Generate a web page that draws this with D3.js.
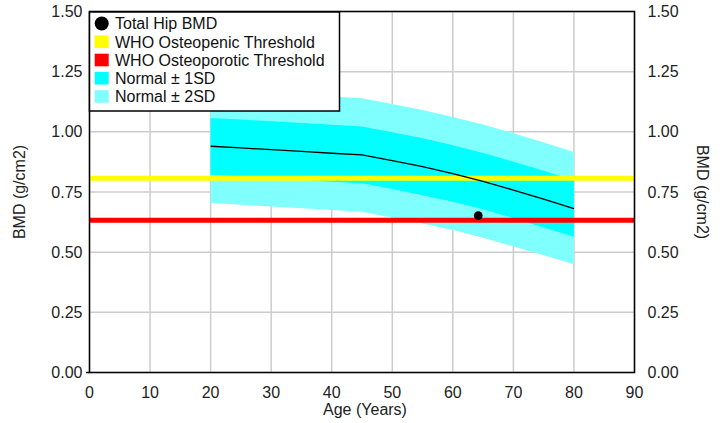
<!DOCTYPE html>
<html>
<head>
<meta charset="utf-8">
<script src="https://cdn.jsdelivr.net/npm/d3@7"></script>
<style>
  html, body { margin: 0; padding: 0; background: #ffffff; }
  svg { display: block; font-family: "Liberation Sans", Arial, sans-serif; }
</style>
</head>
<body>
<svg id="chart" width="723" height="423"></svg>
<script>
// ---------- data ----------
const ages     = [20, 25, 30, 35, 40, 45, 50, 55, 60, 65, 70, 75, 80];
const meanBMD  = [0.940, 0.933, 0.926, 0.919, 0.911, 0.904, 0.880, 0.855, 0.826, 0.794, 0.758, 0.720, 0.681];
const plus1SD  = [1.058, 1.051, 1.044, 1.037, 1.029, 1.022, 0.998, 0.973, 0.944, 0.912, 0.876, 0.838, 0.799];
const minus1SD = [0.822, 0.815, 0.808, 0.801, 0.793, 0.786, 0.762, 0.737, 0.710, 0.678, 0.642, 0.603, 0.564];
const plus2SD  = [1.176, 1.169, 1.162, 1.155, 1.147, 1.140, 1.116, 1.091, 1.062, 1.030, 0.994, 0.956, 0.916];
const minus2SD = [0.704, 0.697, 0.690, 0.683, 0.675, 0.668, 0.644, 0.619, 0.592, 0.560, 0.524, 0.487, 0.450];
const osteopenicThreshold  = 0.807;
const osteoporoticThreshold = 0.633;
const patientAge = [64.2];
const patientBMD = [0.652];
const xTicks = [0, 10, 20, 30, 40, 50, 60, 70, 80, 90];
const yTicks = [0.00, 0.25, 0.50, 0.75, 1.00, 1.25, 1.50];
const legendLabels = ["Total Hip BMD", "WHO Osteopenic Threshold", "WHO Osteoporotic Threshold", "Normal \u00b1 1SD", "Normal \u00b1 2SD"];
const legendColors = ["#000000", "#ffff00", "#ff0000", "#00ffff", "#80ffff"];
const xTitle = "Age (Years)";
const yTitle = "BMD (g/cm2)";

// ---------- layout ----------
const L = 89.5, R = 634.5, T = 11.5, B = 372.5;
const svg = d3.select("#chart");
const x = d3.scaleLinear().domain([0, 90]).range([L, R]);
const y = d3.scaleLinear().domain([0, 1.5]).range([B, T]);

// grid
const grid = svg.append("g");
grid.selectAll("line.v").data(xTicks).join("line")
  .attr("x1", d => x(d)).attr("x2", d => x(d)).attr("y1", T).attr("y2", B)
  .attr("stroke", "#cccccc").attr("stroke-width", 1.5);
grid.selectAll("line.h").data(yTicks).join("line")
  .attr("y1", d => y(d)).attr("y2", d => y(d)).attr("x1", L).attr("x2", R)
  .attr("stroke", "#cccccc").attr("stroke-width", 1.5);

// bands
const rows = ages.map((a, i) => ({a, m: meanBMD[i], p1: plus1SD[i], m1: minus1SD[i], p2: plus2SD[i], m2: minus2SD[i]}));
const area2 = d3.area().x(d => x(d.a)).y0(d => y(d.m2)).y1(d => y(d.p2));
const area1 = d3.area().x(d => x(d.a)).y0(d => y(d.m1)).y1(d => y(d.p1));
svg.append("path").datum(rows).attr("d", area2).attr("fill", "#80ffff");
svg.append("path").datum(rows).attr("d", area1).attr("fill", "#00ffff");

// thresholds
svg.append("line").attr("x1", L).attr("x2", R)
  .attr("y1", y(osteopenicThreshold)).attr("y2", y(osteopenicThreshold))
  .attr("stroke", "#ffff00").attr("stroke-width", 5);
svg.append("line").attr("x1", L).attr("x2", R)
  .attr("y1", y(osteoporoticThreshold)).attr("y2", y(osteoporoticThreshold))
  .attr("stroke", "#ff0000").attr("stroke-width", 5);

// mean line
svg.append("path").datum(rows)
  .attr("d", d3.line().x(d => x(d.a)).y(d => y(d.m)))
  .attr("fill", "none").attr("stroke", "#000").attr("stroke-width", 1.3);

// patient point
svg.selectAll("circle.pt").data(patientAge.map((a, i) => ({a, v: patientBMD[i]}))).join("circle")
  .attr("cx", d => x(d.a)).attr("cy", d => y(d.v)).attr("r", 4.4).attr("fill", "#000");

// frame
svg.append("rect").attr("x", L).attr("y", T).attr("width", R - L).attr("height", B - T)
  .attr("fill", "none").attr("stroke", "#000").attr("stroke-width", 1.5);
svg.append("line").attr("x1", L - 3.5).attr("x2", L).attr("y1", B).attr("y2", B)
  .attr("stroke", "#000").attr("stroke-width", 1.5);

// axes labels
const fmt = d3.format(".2f");
svg.append("g").selectAll("text").data(yTicks).join("text")
  .attr("x", L - 7).attr("y", d => y(d)).attr("dy", "0.35em")
  .attr("text-anchor", "end").attr("font-size", 16).attr("fill", "#222").text(d => fmt(d));
svg.append("g").selectAll("text").data(yTicks).join("text")
  .attr("x", R + 13).attr("y", d => y(d)).attr("dy", "0.35em")
  .attr("text-anchor", "start").attr("font-size", 16).attr("fill", "#222").text(d => fmt(d));
svg.append("g").selectAll("text").data(xTicks).join("text")
  .attr("x", d => x(d)).attr("y", 398)
  .attr("text-anchor", "middle").attr("font-size", 16).attr("fill", "#222").text(d => d);

svg.append("text").attr("x", (L + R) / 2 + 3).attr("y", 415)
  .attr("text-anchor", "middle").attr("font-size", 16).attr("fill", "#222").text(xTitle);
svg.append("text").attr("transform", `translate(25,${(T + B) / 2}) rotate(-90)`)
  .attr("text-anchor", "middle").attr("font-size", 16).attr("fill", "#222").text(yTitle);
svg.append("text").attr("transform", `translate(697,${(T + B) / 2}) rotate(90)`)
  .attr("text-anchor", "middle").attr("font-size", 16).attr("fill", "#222").text(yTitle);

// legend
const lg = svg.append("g");
lg.append("rect").attr("x", 89.5).attr("y", 12).attr("width", 250).attr("height", 99)
  .attr("fill", "#fff").attr("stroke", "#000").attr("stroke-width", 1.5);
const rowY = i => 23.5 + i * 18.25;
legendLabels.forEach((lab, i) => {
  if (i === 0) {
    lg.append("circle").attr("cx", 101.7).attr("cy", rowY(i)).attr("r", 7).attr("fill", legendColors[i]);
  } else {
    lg.append("rect").attr("x", 94.7).attr("y", rowY(i) - 6.3).attr("width", 14).attr("height", 12.6)
      .attr("fill", legendColors[i]);
  }
  lg.append("text").attr("x", 115).attr("y", rowY(i)).attr("dy", "0.36em")
    .attr("font-size", 16).attr("fill", "#111").text(lab);
});
</script>
</body>
</html>
